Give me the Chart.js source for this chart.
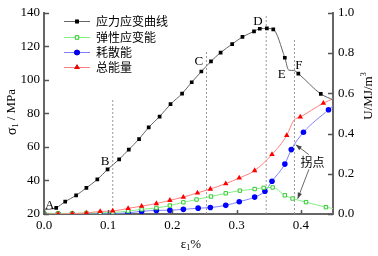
<!DOCTYPE html>
<html><head><meta charset="utf-8">
<script src="https://cdn.jsdelivr.net/npm/chart.js@4.4.0/dist/chart.umd.min.js"></script>
<style>html,body{margin:0;padding:0;background:#fff}#wrap{width:378px;height:256px}</style>
</head><body><div id="wrap"><canvas id="c" width="378" height="256"></canvas></div>
<script>
// ---- data ----
const seriesNames = ['应力应变曲线', '弹性应变能', '耗散能', '总能量'];

const strainStress = [0, 0.019, 0.033, 0.050, 0.066, 0.083, 0.099, 0.117, 0.132, 0.148, 0.163, 0.180, 0.197, 0.215, 0.230, 0.245, 0.260, 0.275, 0.293, 0.309, 0.327, 0.336, 0.347, 0.357, 0.375, 0.381, 0.389, 0.396, 0.431, 0.451];
const stress = [22.5, 23.7, 27.4, 31.1, 35.6, 40.6, 46.6, 52.6, 58.4, 64.7, 71.7, 78.1, 85.5, 91.8, 98.6, 105.0, 111.0, 116.3, 121.3, 125.6, 128.9, 130.5, 130.7, 130.1, 113.2, 105.8, 105.6, 103.7, 91.6, 88.0];
const stressUnmarked = [0, 25, 26, 29];

const strainElastic = [0, 0.022, 0.044, 0.066, 0.0875, 0.107, 0.131, 0.152, 0.175, 0.196, 0.217, 0.2375, 0.260, 0.283, 0.305, 0.328, 0.342, 0.356, 0.375, 0.387, 0.408, 0.439, 0.452];
const elasticEnergy = [0.004, 0.003, 0.003, 0.005, 0.006, 0.008, 0.014, 0.023, 0.030, 0.042, 0.058, 0.072, 0.087, 0.103, 0.116, 0.124, 0.130, 0.132, 0.093, 0.077, 0.059, 0.034, 0.026];
const elasticUnmarked = [22];

const strainDiss = [0, 0.022, 0.044, 0.066, 0.0875, 0.107, 0.131, 0.152, 0.175, 0.196, 0.217, 0.240, 0.259, 0.283, 0.304, 0.328, 0.344, 0.355, 0.375, 0.385, 0.404, 0.443, 0.452];
const dissEnergy = [0, 0, 0, 0, 0.001, 0.002, 0.006, 0.013, 0.018, 0.019, 0.023, 0.029, 0.032, 0.043, 0.061, 0.084, 0.113, 0.163, 0.248, 0.320, 0.406, 0.518, 0.543];
const dissUnmarked = [22];

const strainTotal = [0, 0.022, 0.044, 0.066, 0.0875, 0.107, 0.131, 0.152, 0.175, 0.196, 0.217, 0.239, 0.259, 0.283, 0.304, 0.328, 0.355, 0.378, 0.389, 0.399, 0.435, 0.452];
const totalEnergy = [0, 0, 0.002, 0.005, 0.013, 0.015, 0.028, 0.039, 0.052, 0.068, 0.084, 0.105, 0.124, 0.151, 0.179, 0.216, 0.296, 0.391, 0.466, 0.482, 0.551, 0.575];
const totalUnmarked = [18, 21];

const guideStrain = [0.107, 0.253, 0.346, 0.390];
const guideTop = [88, 117, 139, 124];

const pointLabels = ['A', 'B', 'C', 'D', 'E', 'F'];
const labelStrain = [0.009, 0.095, 0.241, 0.333, 0.370, 0.397];
const labelStress = [25.2, 51.5, 111.2, 135.0, 103.3, 108.4];

const turnLabel = '拐点';
const turnLabelAt = [0.418, 0.256];
const turnArrowFrom = [[0.4125, 0.295], [0.4125, 0.222]];
const turnArrowTo = [[0.392, 0.344], [0.395, 0.076]];

const xTicks = [0, 0.1, 0.2, 0.3, 0.4];
const yTicks = [20, 40, 60, 80, 100, 120, 140];
const y2Ticks = [0, 0.2, 0.4, 0.6, 0.8, 1.0];

// ---- build ----
const pts = (xs, ys) => xs.map((x, i) => ({x: x, y: ys[i]}));
const radiusFn = (hidden, r) => (c) => hidden.includes(c.dataIndex) ? 0 : r;

const datasets = [
  {label: seriesNames[0], data: pts(strainStress, stress), yAxisID: 'y',
   borderColor: '#666', borderWidth: 1, backgroundColor: '#000', pointBorderColor: '#000',
   pointStyle: 'rect', pointRadius: radiusFn(stressUnmarked, 2.6), pointBorderWidth: 0, order: 0,
   cubicInterpolationMode: 'monotone'},
  {label: seriesNames[1], data: pts(strainElastic, elasticEnergy), yAxisID: 'y2',
   borderColor: '#80f080', borderWidth: 1, backgroundColor: '#fff', pointBorderColor: '#33cc33',
   pointStyle: 'rect', pointRadius: radiusFn(elasticUnmarked, 2.4), pointBorderWidth: 1, order: 2,
   cubicInterpolationMode: 'monotone'},
  {label: seriesNames[2], data: pts(strainDiss, dissEnergy), yAxisID: 'y2',
   borderColor: '#8080ff', borderWidth: 1, backgroundColor: '#0000ff', pointBorderColor: '#0000ff',
   pointStyle: 'circle', pointRadius: radiusFn(dissUnmarked, 2.8), pointBorderWidth: 0, order: 3,
   cubicInterpolationMode: 'monotone'},
  {label: seriesNames[3], data: pts(strainTotal, totalEnergy), yAxisID: 'y2',
   borderColor: '#ff8080', borderWidth: 1, backgroundColor: '#ff0000', pointBorderColor: '#ff0000',
   pointStyle: 'triangle', pointRadius: radiusFn(totalUnmarked, 3.2), pointBorderWidth: 0, order: 1,
   cubicInterpolationMode: 'monotone'}
];
guideStrain.forEach((g, i) => datasets.push({
  label: 'guide' + i, data: [{x: g, y: 20}, {x: g, y: guideTop[i]}], yAxisID: 'y',
  borderColor: '#999', borderWidth: 1, borderDash: [2, 2], pointRadius: 0, tension: 0, order: 10
}));

const serif = 'Liberation Serif';
const cjk = 'Noto Sans CJK SC';

function drawParts(ctx, cx, cy, rot, parts) {
  ctx.save();
  ctx.translate(cx, cy);
  ctx.rotate(rot);
  let total = 0;
  parts.forEach(p => { ctx.font = p.size + 'px "' + (p.family || serif) + '"'; p.w = ctx.measureText(p.t).width; total += p.w; });
  let x = -total / 2;
  ctx.textBaseline = 'middle';
  ctx.textAlign = 'left';
  ctx.fillStyle = '#000';
  parts.forEach(p => { ctx.font = p.size + 'px "' + (p.family || serif) + '"'; ctx.fillText(p.t, x, p.dy || 0); x += p.w; });
  ctx.restore();
}

function arrow(ctx, x1, y1, x2, y2) {
  ctx.save();
  ctx.strokeStyle = '#444'; ctx.fillStyle = '#444'; ctx.lineWidth = 0.8;
  ctx.beginPath(); ctx.moveTo(x1, y1); ctx.lineTo(x2, y2); ctx.stroke();
  const a = Math.atan2(y2 - y1, x2 - x1), L = 6, W = 2.2;
  ctx.beginPath();
  ctx.moveTo(x2, y2);
  ctx.lineTo(x2 - L * Math.cos(a) + W * Math.sin(a), y2 - L * Math.sin(a) - W * Math.cos(a));
  ctx.lineTo(x2 - L * Math.cos(a) - W * Math.sin(a), y2 - L * Math.sin(a) + W * Math.cos(a));
  ctx.closePath(); ctx.fill();
  ctx.restore();
}

const decor = {
  id: 'decor',
  afterDraw(chart) {
    const ctx = chart.ctx, ca = chart.chartArea;
    const sx = chart.scales.x, sy = chart.scales.y, sy2 = chart.scales.y2;
    // inward ticks
    ctx.save();
    ctx.strokeStyle = '#555'; ctx.lineWidth = 1.5;
    ctx.beginPath();
    xTicks.forEach(v => { const p = Math.round(sx.getPixelForValue(v)) + 0.5; ctx.moveTo(p, ca.bottom); ctx.lineTo(p, ca.bottom - 4); });
    yTicks.forEach(v => { const p = Math.round(sy.getPixelForValue(v)) + 0.5; ctx.moveTo(ca.left, p); ctx.lineTo(ca.left + 5, p); });
    y2Ticks.forEach(v => { const p = Math.round(sy2.getPixelForValue(v)) + 0.5; ctx.moveTo(ca.right, p); ctx.lineTo(ca.right - 5, p); });
    ctx.stroke();
    ctx.restore();

    // point letters
    ctx.save();
    ctx.fillStyle = '#000'; ctx.font = '13px "' + serif + '"';
    ctx.textAlign = 'center'; ctx.textBaseline = 'middle';
    pointLabels.forEach((t, i) => ctx.fillText(t, sx.getPixelForValue(labelStrain[i]), sy.getPixelForValue(labelStress[i])));
    ctx.font = '12px "' + cjk + '"';
    ctx.fillText(turnLabel, sx.getPixelForValue(turnLabelAt[0]), sy2.getPixelForValue(turnLabelAt[1]));
    ctx.restore();
    turnArrowFrom.forEach((f, i) => arrow(ctx, sx.getPixelForValue(f[0]), sy2.getPixelForValue(f[1]),
      sx.getPixelForValue(turnArrowTo[i][0]), sy2.getPixelForValue(turnArrowTo[i][1])));

    // legend
    const ds = chart.data.datasets;
    const rows = [21, 37, 52, 67];
    for (let i = 0; i < 4; i++) {
      const d = ds[i], y = rows[i] + 0.5;
      ctx.save();
      ctx.strokeStyle = d.borderColor; ctx.lineWidth = 1;
      ctx.beginPath(); ctx.moveTo(64, y); ctx.lineTo(90, y); ctx.stroke();
      const r = i === 0 ? 2.6 : i === 1 ? 2.4 : i === 2 ? 2.8 : 3.2;
      Chart.helpers.drawPoint(ctx, {pointStyle: d.pointStyle, radius: r, borderWidth: d.pointBorderWidth}, 77, y);
      ctx.fillStyle = d.backgroundColor; ctx.strokeStyle = d.pointBorderColor; ctx.lineWidth = d.pointBorderWidth || 0.001;
      ctx.beginPath();
      Chart.helpers.drawPoint(ctx, {pointStyle: d.pointStyle, radius: r, borderWidth: d.pointBorderWidth}, 77, y);
      ctx.fillStyle = '#000'; ctx.font = '12px "' + cjk + '"';
      ctx.textAlign = 'left'; ctx.textBaseline = 'middle';
      ctx.fillText(seriesNames[i], 96, y);
      ctx.restore();
    }

    // axis titles
    drawParts(ctx, 12, 112, -Math.PI / 2, [{t: 'σ', size: 14}, {t: '1', size: 8, dy: 4}, {t: ' / MPa', size: 13}]);
    drawParts(ctx, 369, 96, -Math.PI / 2, [{t: 'U/MJ/m', size: 13}, {t: '3', size: 8, dy: -5}]);
    drawParts(ctx, 191, 245, 0, [{t: 'ε', size: 13}, {t: '1', size: 8, dy: 3}, {t: '%', size: 13}]);
  }
};

const tickFont = {family: serif, size: 13};
new Chart(document.getElementById('c'), {
  type: 'line',
  data: {datasets: datasets},
  plugins: [decor],
  options: {
    responsive: false, animation: false, devicePixelRatio: 1,
    layout: {padding: {top: 8, left: 0, right: 0, bottom: 0}},
    plugins: {legend: {display: false}, tooltip: {enabled: false}},
    elements: {line: {fill: false}},
    scales: {
      x: {type: 'linear', min: 0, max: 0.45,
          afterBuildTicks: s => { s.ticks = xTicks.map(v => ({value: v})); },
          afterFit: s => { s.height = 42; },
          ticks: {font: tickFont, color: '#000', padding: 4, maxRotation: 0, callback: v => Number(v).toFixed(1)},
          grid: {display: false, drawTicks: false},
          border: {display: true, color: '#666', width: 2}},
      y: {type: 'linear', position: 'left', min: 20, max: 140,
          afterBuildTicks: s => { s.ticks = yTicks.map(v => ({value: v})); },
          afterFit: s => { s.width = 44; },
          ticks: {font: tickFont, color: '#000', padding: 4, callback: v => String(v)},
          grid: {display: false, drawTicks: false},
          border: {display: true, color: '#666', width: 2}},
      y2: {type: 'linear', position: 'right', min: 0, max: 1.0,
          afterBuildTicks: s => { s.ticks = y2Ticks.map(v => ({value: v})); },
          afterFit: s => { s.width = 45; },
          ticks: {font: tickFont, color: '#000', padding: 5, callback: v => Number(v).toFixed(1)},
          grid: {display: false, drawTicks: false},
          border: {display: true, color: '#666', width: 2}}
    }
  }
});
</script></body></html>
